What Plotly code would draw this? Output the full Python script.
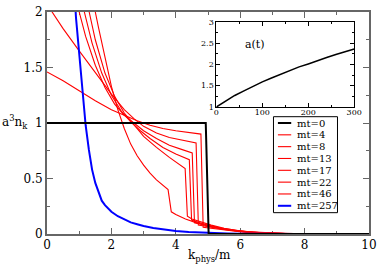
import plotly.graph_objects as go

# ---------------- data ----------------
labels = ["mt=0", "mt=4", "mt=8", "mt=13", "mt=17", "mt=22", "mt=46", "mt=257"]

k_mt0 = [0, 4.93, 5.02, 10]
n_mt0 = [1, 1, 0, 0]

k_mt4 = [0, 0.5, 1.0, 1.5, 2.0, 2.5, 2.8, 3.2, 3.6, 4.0, 4.4, 4.78, 4.85, 5.0, 5.3, 5.7, 6.1, 6.6, 7.2, 7.8, 10]
n_mt4 = [1.46, 1.38, 1.29, 1.20, 1.12, 1.06, 1.02, 0.98, 0.95, 0.93, 0.915, 0.90, 0.06, 0.055, 0.042, 0.028, 0.017, 0.008, 0.003, 0.001, 0]

k_mt8 = [0, 0.16, 0.5, 1.0, 1.5, 2.0, 2.4, 2.7, 3.0, 3.4, 3.8, 4.2, 4.63, 4.70, 4.9, 5.2, 5.6, 6.0, 6.5, 7.0, 7.6, 10]
n_mt8 = [2.07, 2.0, 1.85, 1.65, 1.45, 1.26, 1.12, 1.04, 0.97, 0.91, 0.87, 0.845, 0.82, 0.08, 0.07, 0.054, 0.036, 0.023, 0.012, 0.005, 0.002, 0]

k_mt13 = [0.8, 0.9, 1.0, 1.2, 1.5, 1.8, 2.1, 2.4, 2.7, 3.0, 3.4, 3.8, 4.2, 4.51, 4.58, 4.8, 5.1, 5.5, 5.9, 6.4, 7.0, 7.6, 10]
n_mt13 = [2.35, 2.15, 2.0, 1.78, 1.52, 1.32, 1.17, 1.07, 1.0, 0.93, 0.86, 0.80, 0.76, 0.73, 0.10, 0.085, 0.066, 0.045, 0.028, 0.015, 0.006, 0.002, 0]

k_mt17 = [0.9, 1.0, 1.16, 1.4, 1.7, 2.0, 2.3, 2.6, 2.9, 3.2, 3.6, 4.0, 4.42, 4.49, 4.7, 5.0, 5.4, 5.8, 6.2, 6.7, 7.3, 8.0, 10]
n_mt17 = [2.5, 2.25, 2.0, 1.72, 1.45, 1.25, 1.11, 1.01, 0.93, 0.86, 0.78, 0.72, 0.67, 0.125, 0.105, 0.08, 0.054, 0.034, 0.02, 0.01, 0.004, 0.001, 0]

k_mt22 = [1.1, 1.2, 1.31, 1.5, 1.8, 2.1, 2.4, 2.7, 3.0, 3.4, 3.8, 4.29, 4.36, 4.5, 4.8, 5.1, 5.5, 5.9, 6.3, 6.8, 7.4, 8.0, 10]
n_mt22 = [2.4, 2.18, 2.0, 1.75, 1.45, 1.24, 1.09, 0.98, 0.88, 0.78, 0.69, 0.59, 0.16, 0.135, 0.105, 0.08, 0.052, 0.032, 0.019, 0.01, 0.004, 0.001, 0]

k_mt46 = [1.3, 1.4, 1.5, 1.6, 1.8, 2.0, 2.2, 2.4, 2.6, 2.8, 3.0, 3.2, 3.4, 3.6, 3.76, 3.86, 4.0, 4.3, 4.6, 5.0, 5.4, 5.8, 6.2, 6.6, 7.0, 7.5, 8.0, 10]
n_mt46 = [2.45, 2.2, 2.0, 1.86, 1.58, 1.33, 1.12, 0.95, 0.81, 0.705, 0.62, 0.548, 0.488, 0.438, 0.40, 0.20, 0.175, 0.135, 0.105, 0.075, 0.05, 0.032, 0.02, 0.012, 0.007, 0.003, 0.001, 0]

k_mt257 = [0.7, 0.8, 0.9, 1.0, 1.1, 1.2, 1.3, 1.4, 1.5, 1.6, 1.7, 1.8, 2.0, 2.2, 2.4, 2.6, 2.8, 3.0, 3.3, 3.6, 4.0, 4.4, 4.8, 5.2, 5.6, 6.0, 6.5, 7.0, 7.8]
n_mt257 = [3.2, 2.45, 1.95, 1.6, 1.28, 0.98, 0.76, 0.58, 0.46, 0.37, 0.30, 0.26, 0.20, 0.16, 0.13, 0.105, 0.088, 0.072, 0.055, 0.041, 0.028, 0.018, 0.012, 0.008, 0.005, 0.003, 0.002, 0.001, 0.0005]

t_inset = [0, 20, 40, 60, 80, 100, 120, 140, 160, 180, 200, 220, 240, 260, 280, 300]
a_inset = [1.00, 1.14, 1.27, 1.38, 1.49, 1.59, 1.68, 1.77, 1.86, 1.94, 2.01, 2.09, 2.16, 2.23, 2.30, 2.36]

x_ticks = [0, 2, 4, 6, 8, 10]
y_ticks = [0, 0.5, 1, 1.5, 2]
ix_ticks = [0, 100, 200, 300]
iy_ticks = [1, 1.5, 2, 2.5, 3]

# ---------------- figure ----------------
FONT = "DejaVu Serif"
series = [
    (k_mt0, n_mt0, "black", 2),
    (k_mt4, n_mt4, "#ff0000", 1.1),
    (k_mt8, n_mt8, "#ff0000", 1.1),
    (k_mt13, n_mt13, "#ff0000", 1.1),
    (k_mt17, n_mt17, "#ff0000", 1.1),
    (k_mt22, n_mt22, "#ff0000", 1.1),
    (k_mt46, n_mt46, "#ff0000", 1.1),
    (k_mt257, n_mt257, "#0000ff", 2),
]

fig = go.Figure()
order = [1, 2, 3, 4, 5, 6, 7, 0]
for i in order:
    kx, ny, col, w = series[i]
    fig.add_trace(go.Scatter(x=kx, y=ny, mode="lines", name=labels[i],
                             line=dict(color=col, width=w), showlegend=False,
                             xaxis="x", yaxis="y"))

fig.add_trace(go.Scatter(x=t_inset, y=a_inset, mode="lines", line=dict(color="black", width=1.5),
                         showlegend=False, xaxis="x2", yaxis="y2"))

W, H = 382, 269
ml, mr, mt, mb = 47, 8, 5, 35
pw, ph = W - ml - mr, H - mt - mb

def px2paper_x(px):
    return (px - ml) / pw

def px2paper_y(py):
    return (H - mb - py) / ph

axis_col = "#666666"
fig.update_layout(
    width=W, height=H,
    margin=dict(l=ml, r=mr, t=mt, b=mb),
    paper_bgcolor="white", plot_bgcolor="white",
    font=dict(family=FONT, size=12, color="black"),
    xaxis=dict(range=[0, 10], tickvals=x_ticks, ticks="inside", ticklen=6, tickwidth=1.2,
               tickcolor=axis_col, showline=True, linecolor=axis_col, linewidth=2, mirror="allticks",
               showgrid=False, zeroline=False, layer="below traces", ticklabelstandoff=-1,
               minor=dict(ticks="inside", ticklen=3, dtick=1, tickcolor=axis_col, showgrid=False),
               tickfont=dict(size=12, family=FONT)),
    yaxis=dict(range=[0, 2], tickvals=y_ticks, ticks="inside", ticklen=6, tickwidth=1.2,
               tickcolor=axis_col, showline=True, linecolor=axis_col, linewidth=2, mirror="allticks",
               showgrid=False, zeroline=False, layer="below traces",
               minor=dict(ticks="inside", ticklen=3, dtick=0.25, tickcolor=axis_col, showgrid=False),
               tickfont=dict(size=12, family=FONT)),
    xaxis2=dict(domain=[px2paper_x(219), px2paper_x(359)], anchor="y2", range=[0, 300],
                tickvals=ix_ticks, ticks="inside", ticklen=4, tickwidth=1, tickcolor="black",
                showline=True, linecolor="black", linewidth=1, mirror="allticks",
                showgrid=False, zeroline=False, ticklabelstandoff=-3,
                minor=dict(ticks="inside", ticklen=2, dtick=50, tickcolor="black"),
                tickfont=dict(size=8, family=FONT)),
    yaxis2=dict(domain=[px2paper_y(103), px2paper_y(15)], anchor="x2", range=[1, 3],
                tickvals=iy_ticks, ticks="inside", ticklen=4, tickwidth=1, tickcolor="black",
                showline=True, linecolor="black", linewidth=1, mirror="allticks",
                showgrid=False, zeroline=False,
                minor=dict(ticks="inside", ticklen=2, dtick=0.25, tickcolor="black"),
                tickfont=dict(size=8, family=FONT)),
)

# x-axis label
fig.add_annotation(text="k<sub>phys</sub>/m", xref="paper", yref="paper",
                   x=px2paper_x(212), y=px2paper_y(257), showarrow=False,
                   font=dict(size=12, family=FONT), xanchor="center", yanchor="middle")
# y-axis label (horizontal)
fig.add_annotation(text="a<sup>3</sup>n<sub>k</sub>", xref="paper", yref="paper",
                   x=px2paper_x(15), y=px2paper_y(118), showarrow=False,
                   font=dict(size=12, family=FONT), xanchor="center", yanchor="middle")
# inset label
fig.add_annotation(text="a(t)", xref="x2", yref="y2", x=85, y=2.47, showarrow=False,
                   font=dict(size=11, family=FONT), xanchor="center", yanchor="middle")

# manual compact legend
bx0, bx1, by0, by1 = 277, 342, 113, 212
fig.add_shape(type="rect", xref="paper", yref="paper",
              x0=px2paper_x(bx0), x1=px2paper_x(bx1), y0=px2paper_y(by1), y1=px2paper_y(by0),
              line=dict(color="black", width=1), fillcolor="white", layer="above")
for j, (kx, ny, col, w) in enumerate(series):
    yy = 119.5 + 12.2 * j
    fig.add_shape(type="line", xref="paper", yref="paper",
                  x0=px2paper_x(281.5), x1=px2paper_x(295), y0=px2paper_y(yy), y1=px2paper_y(yy),
                  line=dict(color=col, width=w), layer="above")
    fig.add_annotation(text=labels[j], xref="paper", yref="paper", x=px2paper_x(299),
                       y=px2paper_y(yy), showarrow=False, xanchor="left", yanchor="middle",
                       font=dict(size=10, family=FONT))

fig.write_html("out.html", config={"displayModeBar": False},
               post_script="document.body.style.margin='0';document.body.style.overflow='hidden';")
